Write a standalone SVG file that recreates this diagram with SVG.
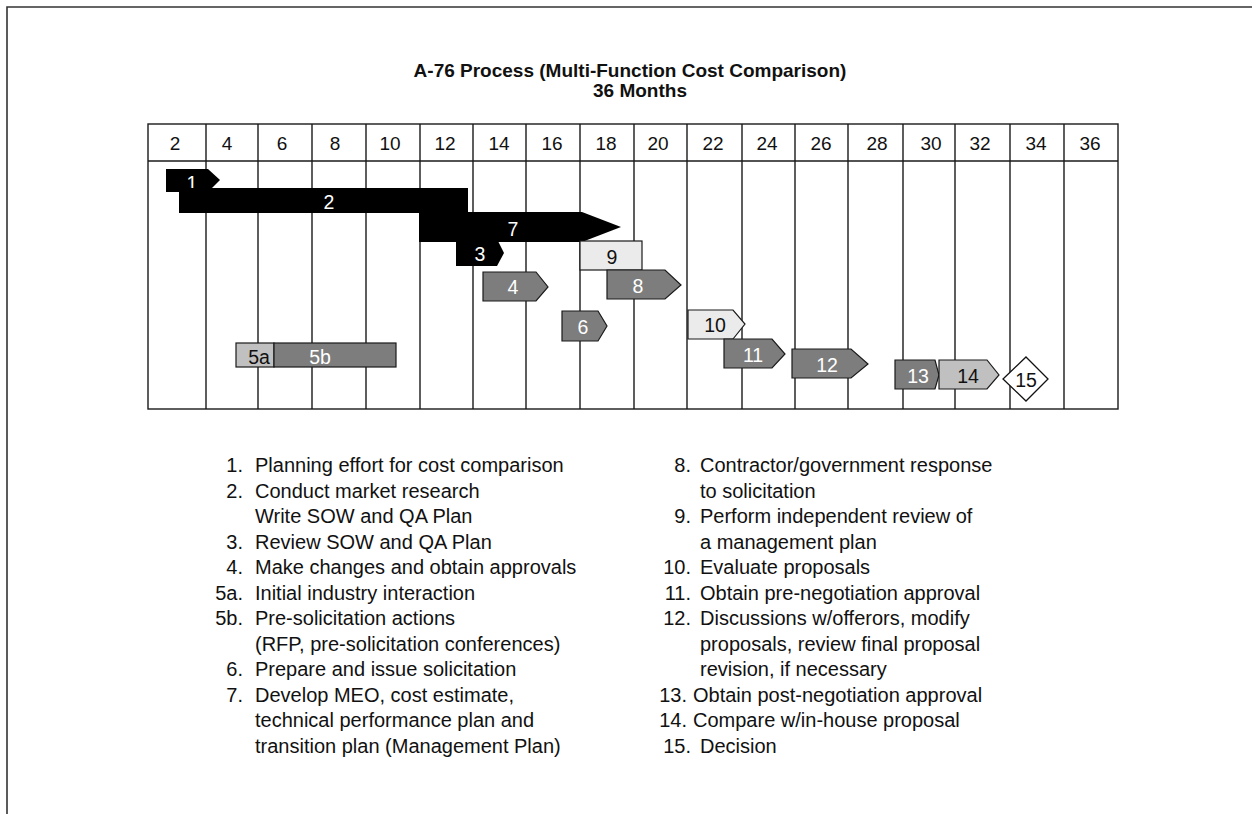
<svg xmlns="http://www.w3.org/2000/svg" width="1252" height="814" viewBox="0 0 1252 814">
<style>
text{font-family:"Liberation Sans",Arial,sans-serif;fill:#111}
.title{font-size:19px;font-weight:bold;text-anchor:middle}
.hdr{font-size:19px;text-anchor:middle}
.lbl{font-size:19.5px;text-anchor:middle}
.w{fill:#fff}
.leg{font-size:20px}
.num{font-size:20px;text-anchor:end}
.grid{stroke:#1a1a1a;stroke-width:1.4;fill:none}
.blk{fill:#000}
.dk{fill:#7d7d7d;stroke:#1a1a1a;stroke-width:1.2}
.lt{fill:#ebebeb;stroke:#1a1a1a;stroke-width:1.2}
.md{fill:#c0c0c0;stroke:#1a1a1a;stroke-width:1.2}
</style>
<rect width="1252" height="814" fill="#fff"/>
<path d="M7,814 V7 H1252" fill="none" stroke="#333" stroke-width="1.6"/>
<g id="title">
<text class="title" x="630" y="77">A-76 Process (Multi-Function Cost Comparison)</text>
<text class="title" x="640" y="97">36 Months</text>
</g>
<g id="grid">
<rect class="grid" x="148" y="124" width="970" height="285"/>
<line class="grid" x1="148" y1="161" x2="1118" y2="161"/>
<path class="grid" d="M206,124V409M258,124V409M312,124V409M366,124V409M420,124V409M473,124V409M526,124V409M580,124V409M634,124V409M687,124V409M742,124V409M795,124V409M848,124V409M903,124V409M955,124V409M1010,124V409M1064,124V409"/>
<g class="hdrs">
<text class="hdr" x="175" y="150">2</text>
<text class="hdr" x="227" y="150">4</text>
<text class="hdr" x="282" y="150">6</text>
<text class="hdr" x="335" y="150">8</text>
<text class="hdr" x="390" y="150">10</text>
<text class="hdr" x="445" y="150">12</text>
<text class="hdr" x="499" y="150">14</text>
<text class="hdr" x="552" y="150">16</text>
<text class="hdr" x="606" y="150">18</text>
<text class="hdr" x="658" y="150">20</text>
<text class="hdr" x="713" y="150">22</text>
<text class="hdr" x="767" y="150">24</text>
<text class="hdr" x="821" y="150">26</text>
<text class="hdr" x="877" y="150">28</text>
<text class="hdr" x="931" y="150">30</text>
<text class="hdr" x="980" y="150">32</text>
<text class="hdr" x="1036" y="150">34</text>
<text class="hdr" x="1090" y="150">36</text>
</g>
</g>
<g id="bar1"><polygon class="blk" points="166,169 208,169 220,180 208,192 166,192"/><text class="lbl w" x="192" y="190">1</text></g>
<g id="bar2"><rect class="blk" x="179" y="188" width="289" height="25"/><text class="lbl w" x="329" y="209">2</text></g>
<g id="bar7"><polygon class="blk" points="419,212 582,212 621,227 582,242 419,242"/><text class="lbl w" x="513" y="236">7</text></g>
<g id="bar3"><polygon class="blk" points="456,241 498,241 504,253 497,266 456,266"/><text class="lbl w" x="480" y="261">3</text></g>
<g id="bar9"><rect class="lt" x="580" y="241" width="62" height="29"/><text class="lbl" x="612" y="264">9</text></g>
<g id="bar4"><polygon class="dk" points="483,272 536,272 548,287 536,301 483,301"/><text class="lbl w" x="513" y="294">4</text></g>
<g id="bar8"><polygon class="dk" points="607,270 665,270 681,285 665,299 607,299"/><text class="lbl w" x="638" y="293">8</text></g>
<g id="bar6"><polygon class="dk" points="562,311 598,311 607,326 598,341 562,341"/><text class="lbl w" x="583" y="334">6</text></g>
<g id="bar10"><polygon class="lt" points="688,310 733,310 745,324 733,339 688,339"/><text class="lbl" x="715" y="332">10</text></g>
<g id="bar11"><polygon class="dk" points="724,339 772,339 785,354 772,368 724,368"/><text class="lbl w" x="753" y="362">11</text></g>
<g id="bar12"><polygon class="dk" points="792,349 851,349 868,364 851,378 792,378"/><text class="lbl w" x="827" y="372">12</text></g>
<g id="bar13"><polygon class="dk" points="895,360 935,360 939,375 935,389 895,389"/><text class="lbl w" x="918" y="383">13</text></g>
<g id="bar14"><polygon class="md" points="939,360 987,360 999,375 987,389 939,389"/><text class="lbl" x="968" y="383">14</text></g>
<g id="m15"><polygon points="1026,357 1048,379 1026,401 1003,379" fill="#fff" stroke="#111" stroke-width="1.3"/><text class="lbl" x="1026" y="387">15</text></g>
<g id="bar5a"><rect class="md" x="236" y="343" width="38" height="24"/><text class="lbl" x="259" y="364">5a</text></g>
<g id="bar5b"><rect class="dk" x="274" y="343" width="122" height="24"/><text class="lbl w" x="320" y="364">5b</text></g>
<g id="legend-left">
<text class="num" x="243" y="472">1.</text><text class="leg" x="255" y="472">Planning effort for cost comparison</text>
<text class="num" x="243" y="497.5">2.</text><text class="leg" x="255" y="497.5">Conduct market research</text>
<text class="leg" x="255" y="523">Write SOW and QA Plan</text>
<text class="num" x="243" y="548.5">3.</text><text class="leg" x="255" y="548.5">Review SOW and QA Plan</text>
<text class="num" x="243" y="574">4.</text><text class="leg" x="255" y="574">Make changes and obtain approvals</text>
<text class="num" x="243" y="599.5">5a.</text><text class="leg" x="255" y="599.5">Initial industry interaction</text>
<text class="num" x="243" y="625">5b.</text><text class="leg" x="255" y="625">Pre-solicitation actions</text>
<text class="leg" x="255" y="650.5">(RFP, pre-solicitation conferences)</text>
<text class="num" x="243" y="676">6.</text><text class="leg" x="255" y="676">Prepare and issue solicitation</text>
<text class="num" x="243" y="701.5">7.</text><text class="leg" x="255" y="701.5">Develop MEO, cost estimate,</text>
<text class="leg" x="255" y="727">technical performance plan and</text>
<text class="leg" x="255" y="752.5">transition plan (Management Plan)</text>
</g>
<g id="legend-right">
<text class="num" x="691" y="472">8.</text><text class="leg" x="700" y="472">Contractor/government response</text>
<text class="leg" x="700" y="497.5">to solicitation</text>
<text class="num" x="691" y="523">9.</text><text class="leg" x="700" y="523">Perform independent review of</text>
<text class="leg" x="700" y="548.5">a management plan</text>
<text class="num" x="691" y="574">10.</text><text class="leg" x="700" y="574">Evaluate proposals</text>
<text class="num" x="691" y="599.5">11.</text><text class="leg" x="700" y="599.5">Obtain pre-negotiation approval</text>
<text class="num" x="691" y="625">12.</text><text class="leg" x="700" y="625">Discussions w/offerors, modify</text>
<text class="leg" x="700" y="650.5">proposals, review final proposal</text>
<text class="leg" x="700" y="676">revision, if necessary</text>
<text class="num" x="687" y="701.5">13.</text><text class="leg" x="693" y="701.5">Obtain post-negotiation approval</text>
<text class="num" x="687" y="727">14.</text><text class="leg" x="693" y="727">Compare w/in-house proposal</text>
<text class="num" x="691" y="752.5">15.</text><text class="leg" x="700" y="752.5">Decision</text>
</g>
</svg>
